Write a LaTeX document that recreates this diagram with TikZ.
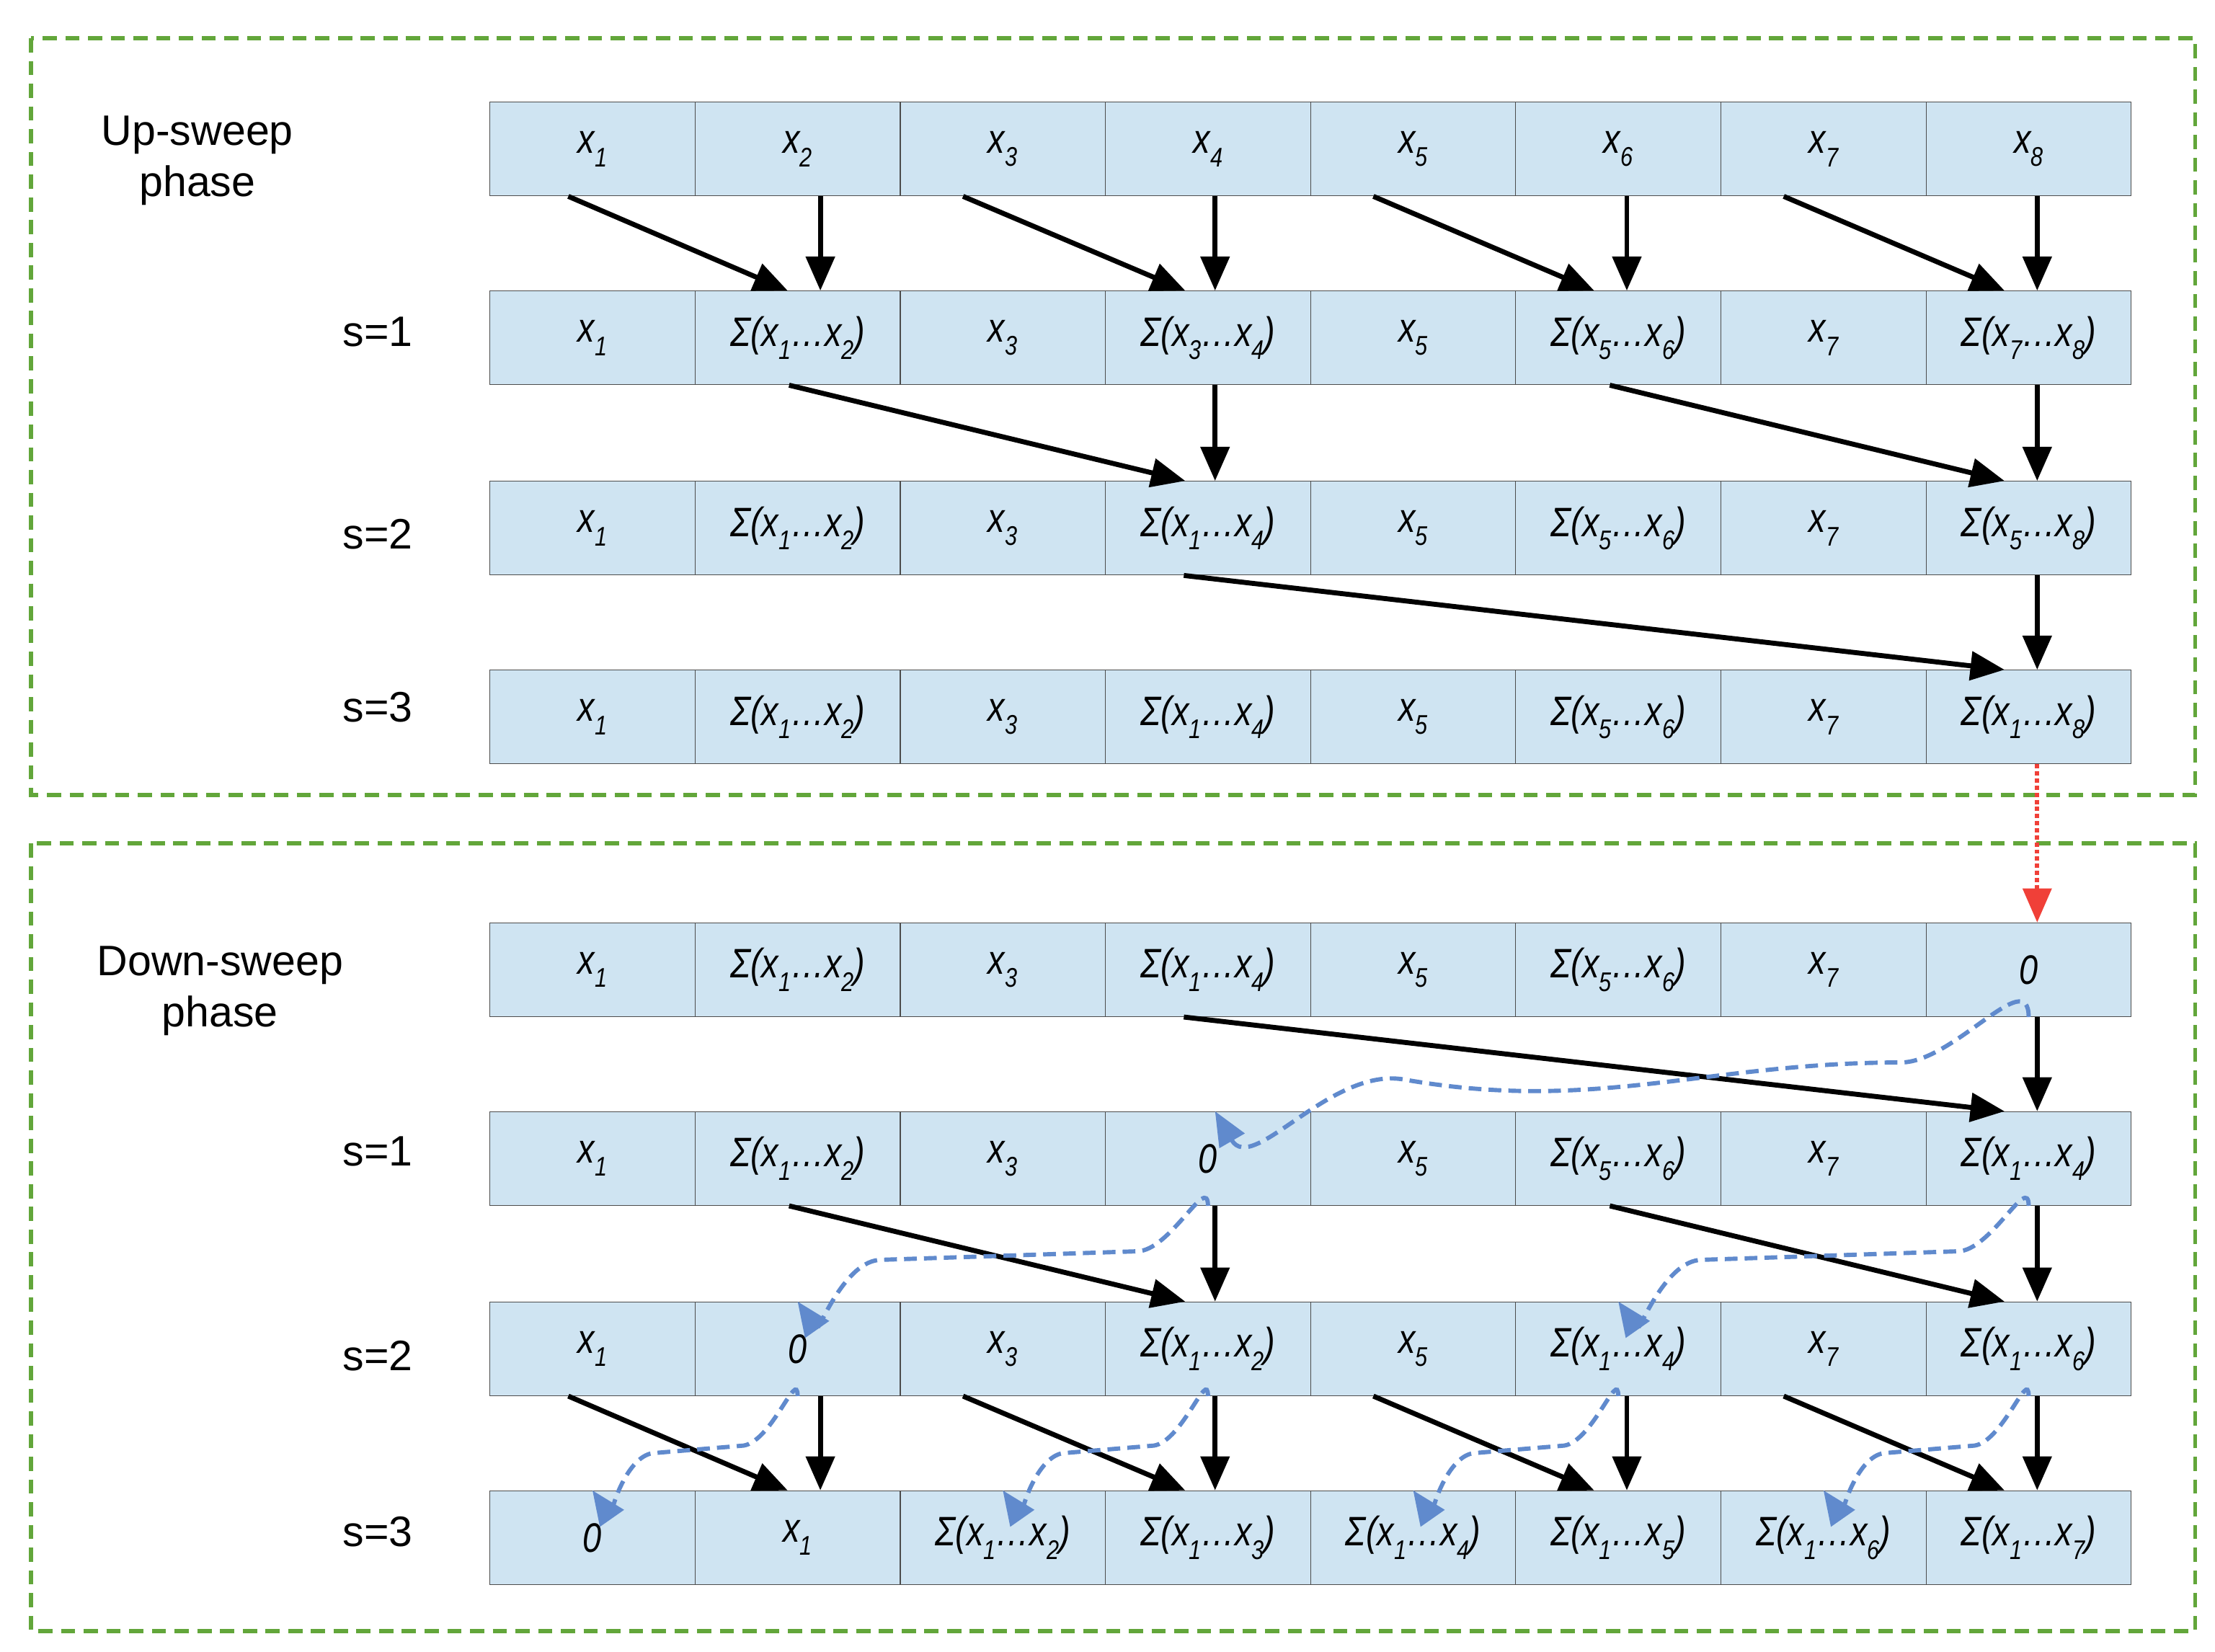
\documentclass[tikz,border=0pt]{standalone}
\usepackage{fontspec}
\setmainfont{Liberation Sans}
\newfontfamily\cellfont{Liberation Sans}[FakeStretch=0.82]
\usetikzlibrary{arrows.meta,calc}
\newcommand{\sbx}[1]{\raisebox{-0.32em}{\fontsize{19}{19}\selectfont #1}}
\newcommand{\xx}[1]{x\sbx{#1}}
\newcommand{\cs}[2]{Σ(x\sbx{#1}…x\sbx{#2})}
\definecolor{cellfill}{RGB}{207,228,242}
\definecolor{grn}{RGB}{98,166,58}
\definecolor{blu}{RGB}{96,138,205}
\definecolor{rd}{RGB}{240,64,56}
\tikzset{
 cell/.style={draw=black!70,line width=0.6pt,fill=cellfill,minimum width=144.5pt,minimum height=66pt,inner sep=0pt,font=\cellfont\itshape\fontsize{29}{29}\selectfont},
 arr/.style={line width=3.5pt,-{Triangle[length=24pt,width=20pt]}},
 bl/.style={blu,line width=3pt,dash pattern=on 9pt off 5pt,-{Triangle[length=24pt,width=20pt]}},
 phase/.style={dashed,grn,line width=3pt,dash pattern=on 10pt off 6pt},
 lbl/.style={font=\fontsize{30}{36}\selectfont,align=center}
}
\begin{document}
\begin{tikzpicture}[x=1pt,y=-1pt]
\useasboundingbox (0,0) rectangle (1560,1163.5);
\draw[phase] (22,27) rectangle (1546,560);
\draw[phase] (22,594) rectangle (1546,1149);
\node[lbl] (t1) at (139,113) {Up-sweep\\phase};
\node[lbl] (t2) at (155,698) {Down-sweep\\phase};
\foreach \y/\n in {234/a,376/b,498/c,811/d,955/e,1079/f}
  \node[lbl] (s\n) at (266,\y) {};
\node[lbl] at (sa) {s=1};\node[lbl] at (sb) {s=2};\node[lbl] at (sc) {s=3};
\node[lbl] at (sd) {s=1};\node[lbl] at (se) {s=2};\node[lbl] at (sf) {s=3};
% rows
\newcommand{\row}[3]{\foreach \t [count=\c] in {#3}
  \node[cell] (#1\c) at ({345+144.5*(\c-0.5)},#2) {\t};}
\row{u0}{105}{{\xx1},{\xx2},{\xx3},{\xx4},{\xx5},{\xx6},{\xx7},{\xx8}}
\row{u1}{238}{{\xx1},{\cs12},{\xx3},{\cs34},{\xx5},{\cs56},{\xx7},{\cs78}}
\row{u2}{372}{{\xx1},{\cs12},{\xx3},{\cs14},{\xx5},{\cs56},{\xx7},{\cs58}}
\row{u3}{505}{{\xx1},{\cs12},{\xx3},{\cs14},{\xx5},{\cs56},{\xx7},{\cs18}}
\row{d0}{683}{{\xx1},{\cs12},{\xx3},{\cs14},{\xx5},{\cs56},{\xx7},{0}}
\row{d1}{816}{{\xx1},{\cs12},{\xx3},{0},{\xx5},{\cs56},{\xx7},{\cs14}}
\row{d2}{950}{{\xx1},{0},{\xx3},{\cs12},{\xx5},{\cs14},{\xx7},{\cs16}}
\row{d3}{1083}{{0},{\xx1},{\cs12},{\cs13},{\cs14},{\cs15},{\cs16},{\cs17}}
\newcommand{\ar}[4]{\draw[arr] ([xshift=#2pt]#1.south) -- ([xshift=#4pt]#3.north);}
% up-sweep
\ar{u01}{-17}{u12}{-7}\ar{u02}{16}{u12}{16}
\ar{u03}{-28}{u14}{-16}\ar{u04}{5}{u14}{5}
\ar{u05}{-28}{u16}{-17}\ar{u06}{6}{u16}{6}
\ar{u07}{-28}{u18}{-17}\ar{u08}{6}{u18}{6}
\ar{u12}{-6}{u24}{-16}\ar{u14}{5}{u24}{5}
\ar{u16}{-6}{u28}{-17}\ar{u18}{6}{u28}{6}
\ar{u24}{-17}{u38}{-17}\ar{u28}{6}{u38}{6}
\draw[rd,line width=3pt,dotted,-{Triangle[length=24pt,width=20pt]}] ([xshift=6pt]u38.south) -- ([xshift=6pt]d08.north);
% down-sweep
\ar{d04}{-17}{d18}{-17}\ar{d08}{6}{d18}{6}
\ar{d12}{-6}{d24}{-16}\ar{d14}{5}{d24}{5}
\ar{d16}{-6}{d28}{-17}\ar{d18}{6}{d28}{6}
\ar{d21}{-17}{d32}{-7}\ar{d22}{16}{d32}{16}
\ar{d23}{-28}{d34}{-16}\ar{d24}{5}{d34}{5}
\ar{d25}{-28}{d36}{-17}\ar{d26}{6}{d36}{6}
\ar{d27}{-28}{d38}{-17}\ar{d28}{6}{d38}{6}
% blue dashed
\draw[bl] (d08.south) to[out=90,in=0] ([shift={(-90,32)}]d08.south) to[out=180,in=-10] ([shift={(-440,44)}]d08.south) to[out=170,in=-60] ([xshift=5pt]d14.north);
\newcommand{\bc}[2]{\draw[bl] (#1.south) to[out=90,in=0] ([shift={(-50,32)}]#1.south) -- ([shift={(-230,38)}]#1.south) to[out=180,in=-55] (#2.north);}
\bc{d14}{d22}\bc{d18}{d26}
\newcommand{\bs}[2]{\draw[bl] (#1.south) to[out=90,in=0] ([shift={(-40,35)}]#1.south) -- ([shift={(-100,40)}]#1.south) to[out=180,in=-55] (#2.north);}
\bs{d22}{d31}\bs{d24}{d33}\bs{d26}{d35}\bs{d28}{d37}
\end{tikzpicture}
\end{document}
